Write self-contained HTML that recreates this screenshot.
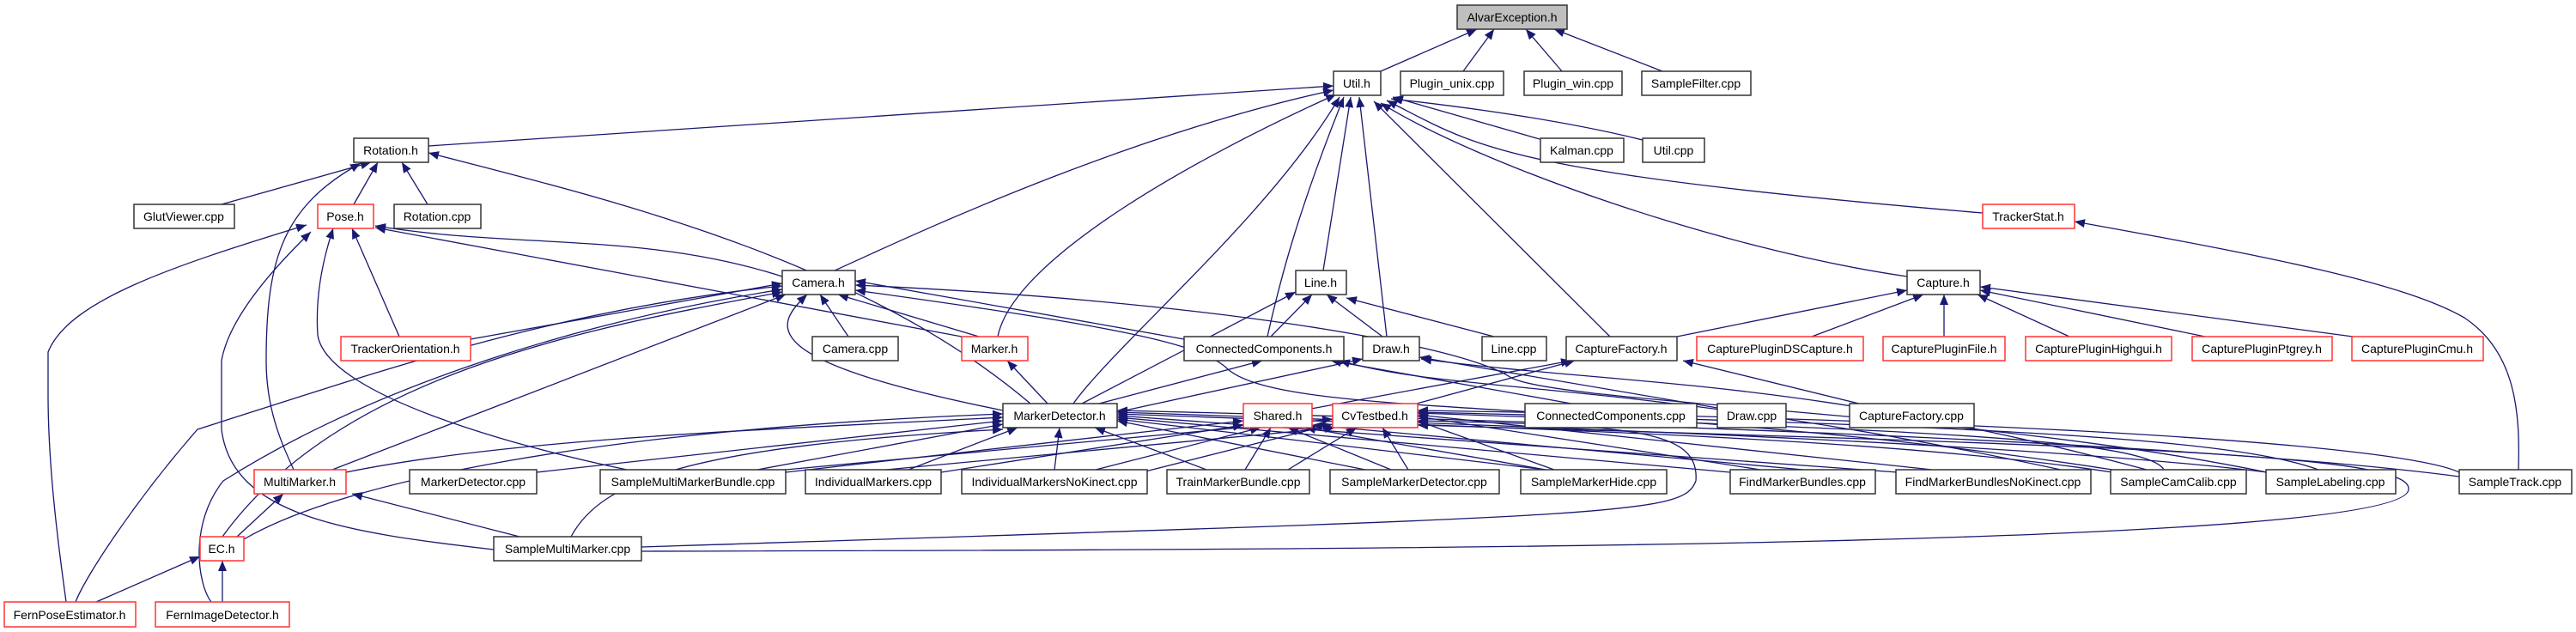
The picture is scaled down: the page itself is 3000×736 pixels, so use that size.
<!DOCTYPE html>
<html><head><meta charset="utf-8"><style>
html,body{margin:0;padding:0;background:#fff;}
svg{display:block;}
text{font-family:"Liberation Sans",sans-serif;font-size:14px;fill:#000;text-anchor:middle;}
.e{fill:none;stroke:#191970;stroke-width:1.3;marker-start:url(#a);}
.n{fill:#fff;stroke:#333;stroke-width:1.5;}
.r{fill:#fff;stroke:#f33;stroke-width:1.5;}
.g{fill:#bfbfbf;stroke:#333;stroke-width:1.5;}
</style></head><body>
<svg width="3000" height="736" viewBox="0 0 3000 736" xmlns="http://www.w3.org/2000/svg">
<defs><marker id="a" viewBox="0 0 12 10" refX="12" refY="5" markerWidth="12" markerHeight="10" markerUnits="userSpaceOnUse" orient="auto-start-reverse"><path d="M0,0 L12,5 L0,10 z" fill="#191970"/></marker></defs>
<g>
<path class="e" d="M1720,34 L1608,83"/>
<path class="e" d="M1740,34 L1704,83"/>
<path class="e" d="M1777,34 L1819,83"/>
<path class="e" d="M1810,34 L1936,83"/>
<path class="e" d="M1553,100 L499,170"/>
<path class="e" d="M1622,113 L1793,162"/>
<path class="e" d="M1620,115 Q1800,135 1913,163"/>
<path class="e" d="M1615,117 C1720,170 1740,200 2309,248"/>
<path class="e" d="M1608,120 C1720,190 2000,290 2221,322"/>
<path class="e" d="M1553,105 C1300,160 1050,280 972,315"/>
<path class="e" d="M1573,113 L1541,315"/>
<path class="e" d="M1583,113 L1615,392"/>
<path class="e" d="M1565,113 C1510,250 1490,330 1476,392"/>
<path class="e" d="M1560,113 C1480,250 1300,400 1250,470"/>
<path class="e" d="M1556,110 C1400,180 1180,300 1162,392"/>
<path class="e" d="M1600,118 L1875,392"/>
<path class="e" d="M432,189 L258,238"/>
<path class="e" d="M440,189 L412,238"/>
<path class="e" d="M468,189 L498,238"/>
<path class="e" d="M420,190 C330,240 310,300 310,420 C310,480 330,520 342,547"/>
<path class="e" d="M499,178 C700,230 1000,300 1200,470"/>
<path class="e" d="M437,263 C600,290 750,270 911,322"/>
<path class="e" d="M437,265 L1120,392"/>
<path class="e" d="M410,266 L465,392"/>
<path class="e" d="M388,266 C370,320 368,360 370,390 C380,460 600,520 730,547"/>
<path class="e" d="M357,262 C200,310 80,350 56,410 L56,460 C56,550 70,650 77,701"/>
<path class="e" d="M362,270 C300,330 265,380 258,420 L258,500 C270,600 400,620 575,640"/>
<path class="e" d="M911,330 L548,395"/>
<path class="e" d="M911,333 C650,360 450,430 230,500 C160,580 100,670 88,701"/>
<path class="e" d="M911,337 C700,370 450,440 260,560 C220,610 230,680 246,701"/>
<path class="e" d="M911,340 C700,380 400,430 259,625"/>
<path class="e" d="M915,343 L387,547"/>
<path class="e" d="M955,343 L988,392"/>
<path class="e" d="M976,343 L1140,392"/>
<path class="e" d="M940,343 C900,380 880,420 1168,478"/>
<path class="e" d="M996,327 L1379,395"/>
<path class="e" d="M996,338 C1300,380 1400,400 1430,430 C1500,490 1900,460 2460,547"/>
<path class="e" d="M996,332 C1400,350 1700,400 1760,440 C1820,470 2300,480 2640,550"/>
<path class="e" d="M1528,343 L1480,392"/>
<path class="e" d="M1545,343 L1610,392"/>
<path class="e" d="M1568,347 L1740,392"/>
<path class="e" d="M1509,340 L1260,470"/>
<path class="e" d="M2221,338 L1953,392"/>
<path class="e" d="M2240,343 L2110,392"/>
<path class="e" d="M2264,343 L2264,392"/>
<path class="e" d="M2303,343 L2410,392"/>
<path class="e" d="M2306,338 L2568,392"/>
<path class="e" d="M2306,334 L2740,392"/>
<path class="e" d="M2416,258 C2650,300 2800,330 2870,370 C2930,410 2935,480 2933,547"/>
<path class="e" d="M1960,420 L2165,470"/>
<path class="e" d="M1830,420 L1527,476"/>
<path class="e" d="M1834,420 L1650,470"/>
<path class="e" d="M1550,420 L1830,470"/>
<path class="e" d="M1470,420 L1280,470"/>
<path class="e" d="M1653,416 L2000,475"/>
<path class="e" d="M1587,418 L1301,480"/>
<path class="e" d="M1655,418 C1900,450 2100,440 2500,547"/>
<path class="e" d="M1560,420 C1700,460 1900,440 2400,547"/>
<path class="e" d="M1173,420 L1220,470"/>
<path class="e" d="M1168,486 C900,500 600,510 403,550"/>
<path class="e" d="M1168,490 L625,550"/>
<path class="e" d="M1168,494 L882,547"/>
<path class="e" d="M1185,498 L1058,547"/>
<path class="e" d="M1234,498 L1228,547"/>
<path class="e" d="M1275,498 L1405,547"/>
<path class="e" d="M1301,490 L1590,547"/>
<path class="e" d="M1301,488 L1800,547"/>
<path class="e" d="M1301,486 L2015,550"/>
<path class="e" d="M1301,484 L2210,550"/>
<path class="e" d="M1301,482 C1800,500 2200,510 2460,550"/>
<path class="e" d="M1301,480 C1900,500 2400,520 2640,550"/>
<path class="e" d="M1301,478 C2000,495 2600,520 2864,555"/>
<path class="e" d="M1168,482 C700,500 400,560 284,628"/>
<path class="e" d="M1168,500 C800,520 700,560 665,625"/>
<path class="e" d="M1651,490 C1900,495 1980,500 1975,560 C1960,600 1900,600 747,637"/>
<path class="e" d="M1651,495 C2500,520 2810,530 2805,570 C2800,640 1500,640 747,642"/>
<path class="e" d="M1448,490 L915,550"/>
<path class="e" d="M1448,495 L1096,550"/>
<path class="e" d="M1468,498 L1276,547"/>
<path class="e" d="M1480,498 L1450,547"/>
<path class="e" d="M1500,498 L1620,547"/>
<path class="e" d="M1520,498 L1800,547"/>
<path class="e" d="M1528,495 L2100,547"/>
<path class="e" d="M1580,498 L1500,547"/>
<path class="e" d="M1610,498 L1640,547"/>
<path class="e" d="M1555,498 L1000,550"/>
<path class="e" d="M1552,494 L1330,550"/>
<path class="e" d="M1552,488 L915,547"/>
<path class="e" d="M1651,490 L1810,547"/>
<path class="e" d="M1651,485 L2050,547"/>
<path class="e" d="M1651,483 L2250,547"/>
<path class="e" d="M1651,481 C2200,500 2500,510 2520,547"/>
<path class="e" d="M1651,480 C2300,495 2600,510 2700,547"/>
<path class="e" d="M1651,478 C2400,490 2800,520 2864,550"/>
<path class="e" d="M330,575 L276,625"/>
<path class="e" d="M410,575 L605,625"/>
<path class="e" d="M233,648 L112,701"/>
<path class="e" d="M259,653 L259,701"/>
</g>
<g>
<rect class="g" x="1697" y="6" width="128" height="28"/><text x="1761" y="25">AlvarException.h</text>
<rect class="n" x="1553" y="83" width="55" height="28"/><text x="1580" y="102">Util.h</text>
<rect class="n" x="1631" y="83" width="120" height="28"/><text x="1691" y="102">Plugin_unix.cpp</text>
<rect class="n" x="1775" y="83" width="114" height="28"/><text x="1832" y="102">Plugin_win.cpp</text>
<rect class="n" x="1912" y="83" width="127" height="28"/><text x="1975" y="102">SampleFilter.cpp</text>
<rect class="n" x="412" y="161" width="87" height="28"/><text x="455" y="180">Rotation.h</text>
<rect class="n" x="1794" y="161" width="97" height="28"/><text x="1842" y="180">Kalman.cpp</text>
<rect class="n" x="1913" y="161" width="72" height="28"/><text x="1949" y="180">Util.cpp</text>
<rect class="r" x="2309" y="238" width="107" height="28"/><text x="2362" y="257">TrackerStat.h</text>
<rect class="n" x="156" y="238" width="117" height="28"/><text x="214" y="257">GlutViewer.cpp</text>
<rect class="r" x="370" y="238" width="65" height="28"/><text x="402" y="257">Pose.h</text>
<rect class="n" x="459" y="238" width="101" height="28"/><text x="509" y="257">Rotation.cpp</text>
<rect class="n" x="911" y="315" width="85" height="28"/><text x="953" y="334">Camera.h</text>
<rect class="n" x="1509" y="315" width="59" height="28"/><text x="1538" y="334">Line.h</text>
<rect class="n" x="2221" y="315" width="85" height="28"/><text x="2263" y="334">Capture.h</text>
<rect class="r" x="397" y="392" width="151" height="28"/><text x="472" y="411">TrackerOrientation.h</text>
<rect class="n" x="946" y="392" width="100" height="28"/><text x="996" y="411">Camera.cpp</text>
<rect class="r" x="1120" y="392" width="77" height="28"/><text x="1158" y="411">Marker.h</text>
<rect class="n" x="1379" y="392" width="186" height="28"/><text x="1472" y="411">ConnectedComponents.h</text>
<rect class="n" x="1587" y="392" width="66" height="28"/><text x="1620" y="411">Draw.h</text>
<rect class="n" x="1726" y="392" width="75" height="28"/><text x="1763" y="411">Line.cpp</text>
<rect class="n" x="1824" y="392" width="129" height="28"/><text x="1888" y="411">CaptureFactory.h</text>
<rect class="r" x="1976" y="392" width="194" height="28"/><text x="2073" y="411">CapturePluginDSCapture.h</text>
<rect class="r" x="2193" y="392" width="142" height="28"/><text x="2264" y="411">CapturePluginFile.h</text>
<rect class="r" x="2359" y="392" width="170" height="28"/><text x="2444" y="411">CapturePluginHighgui.h</text>
<rect class="r" x="2553" y="392" width="163" height="28"/><text x="2634" y="411">CapturePluginPtgrey.h</text>
<rect class="r" x="2739" y="392" width="153" height="28"/><text x="2815" y="411">CapturePluginCmu.h</text>
<rect class="n" x="1168" y="470" width="133" height="28"/><text x="1234" y="489">MarkerDetector.h</text>
<rect class="r" x="1448" y="470" width="80" height="28"/><text x="1488" y="489">Shared.h</text>
<rect class="r" x="1552" y="470" width="99" height="28"/><text x="1601" y="489">CvTestbed.h</text>
<rect class="n" x="1776" y="470" width="200" height="28"/><text x="1876" y="489">ConnectedComponents.cpp</text>
<rect class="n" x="2000" y="470" width="80" height="28"/><text x="2040" y="489">Draw.cpp</text>
<rect class="n" x="2154" y="470" width="145" height="28"/><text x="2226" y="489">CaptureFactory.cpp</text>
<rect class="r" x="296" y="547" width="107" height="28"/><text x="349" y="566">MultiMarker.h</text>
<rect class="n" x="477" y="547" width="148" height="28"/><text x="551" y="566">MarkerDetector.cpp</text>
<rect class="n" x="699" y="547" width="216" height="28"/><text x="807" y="566">SampleMultiMarkerBundle.cpp</text>
<rect class="n" x="938" y="547" width="158" height="28"/><text x="1017" y="566">IndividualMarkers.cpp</text>
<rect class="n" x="1120" y="547" width="216" height="28"/><text x="1228" y="566">IndividualMarkersNoKinect.cpp</text>
<rect class="n" x="1359" y="547" width="166" height="28"/><text x="1442" y="566">TrainMarkerBundle.cpp</text>
<rect class="n" x="1549" y="547" width="197" height="28"/><text x="1647" y="566">SampleMarkerDetector.cpp</text>
<rect class="n" x="1771" y="547" width="170" height="28"/><text x="1856" y="566">SampleMarkerHide.cpp</text>
<rect class="n" x="2015" y="547" width="169" height="28"/><text x="2099" y="566">FindMarkerBundles.cpp</text>
<rect class="n" x="2208" y="547" width="227" height="28"/><text x="2321" y="566">FindMarkerBundlesNoKinect.cpp</text>
<rect class="n" x="2458" y="547" width="158" height="28"/><text x="2537" y="566">SampleCamCalib.cpp</text>
<rect class="n" x="2639" y="547" width="151" height="28"/><text x="2714" y="566">SampleLabeling.cpp</text>
<rect class="n" x="2864" y="547" width="131" height="28"/><text x="2929" y="566">SampleTrack.cpp</text>
<rect class="r" x="233" y="625" width="51" height="28"/><text x="258" y="644">EC.h</text>
<rect class="n" x="575" y="625" width="172" height="28"/><text x="661" y="644">SampleMultiMarker.cpp</text>
<rect class="r" x="5" y="701" width="153" height="29"/><text x="81" y="721">FernPoseEstimator.h</text>
<rect class="r" x="181" y="701" width="156" height="29"/><text x="259" y="721">FernImageDetector.h</text>
</g>
</svg>
</body></html>
